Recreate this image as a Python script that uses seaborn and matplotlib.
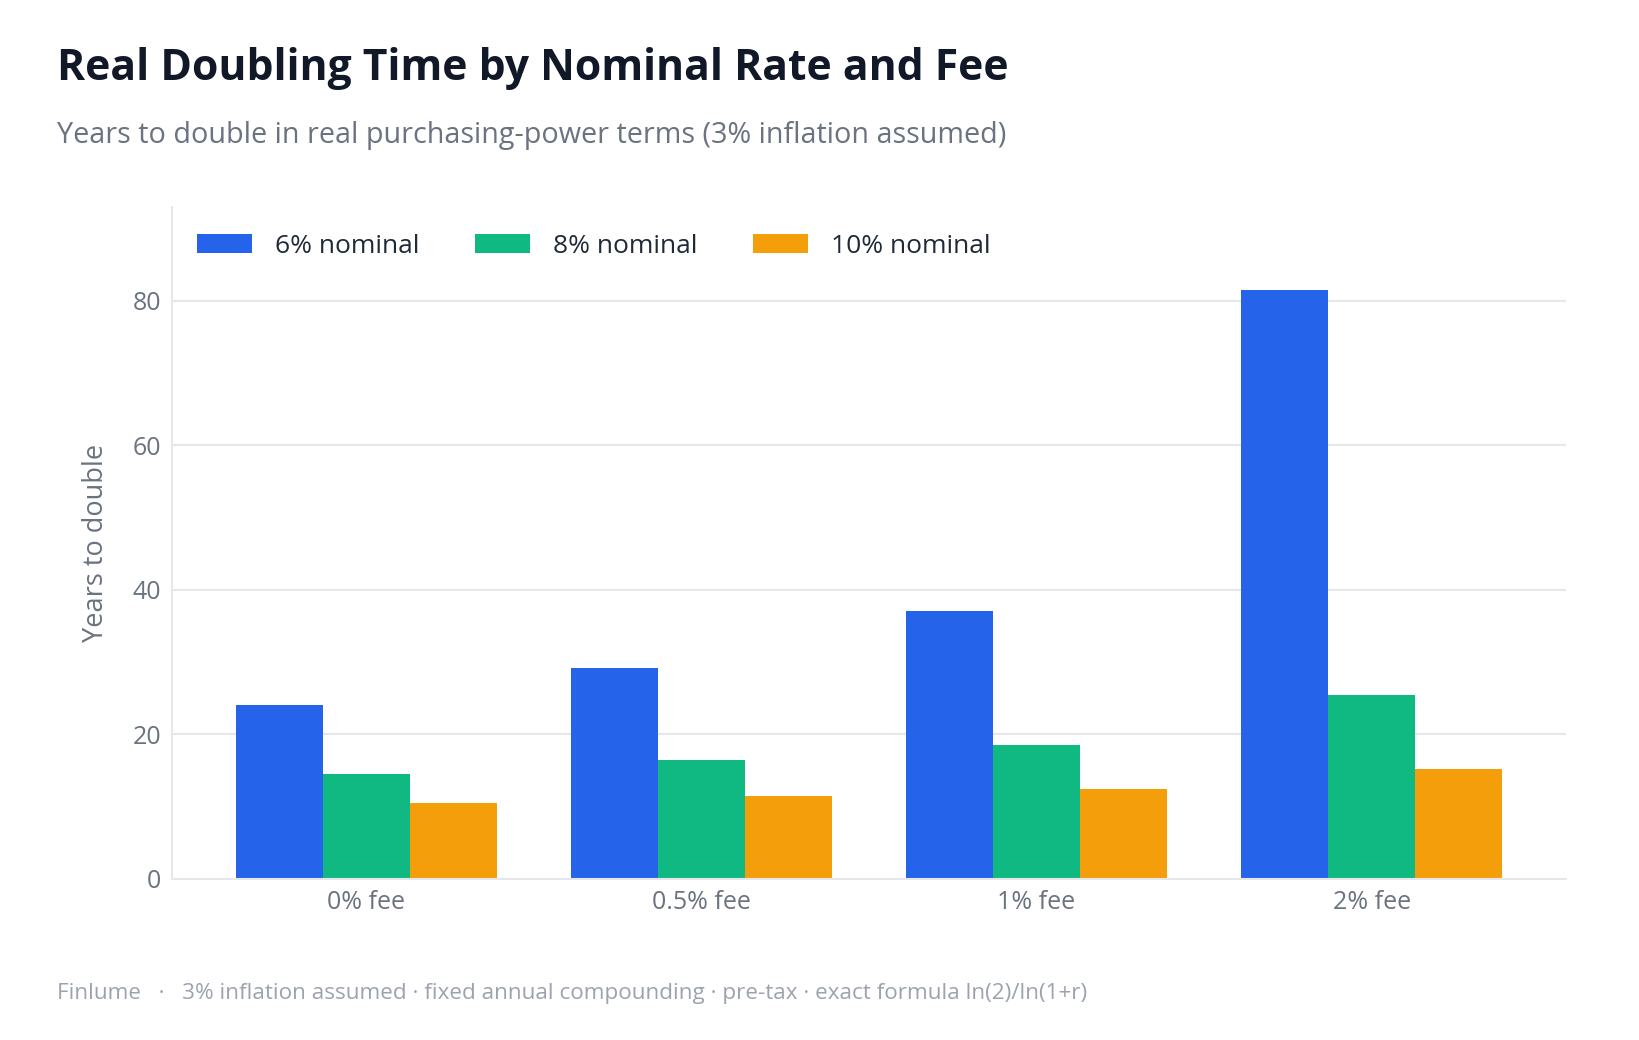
import pandas as pd
import seaborn as sns
import matplotlib.pyplot as plt

# data
fees = ['0% fee', '0.5% fee', '1% fee', '2% fee']
series = ['6% nominal', '8% nominal', '10% nominal']
nom6 = [24.1, 29.2, 37.1, 81.5]
nom8 = [14.6, 16.5, 18.6, 25.5]
nom10 = [10.5, 11.5, 12.5, 15.2]
colors = ['#2563eb', '#10b981', '#f59e0b']

df = pd.DataFrame({
    'fee': fees * 3,
    'series': [s for s in series for _ in fees],
    'years': nom6 + nom8 + nom10,
})

sns.set_theme(style='white')
plt.rcParams['font.family'] = ['Open Sans', 'DejaVu Sans']

fig = plt.figure(figsize=(16.39, 10.4), dpi=100)
ax = fig.add_axes([172 / 1639, 1 - 879 / 1040, (1566 - 172) / 1639, (879 - 207) / 1040])

sns.barplot(data=df, x='fee', y='years', hue='series', order=fees, hue_order=series,
            palette=colors, width=0.78, saturation=1, ax=ax, edgecolor='none', linewidth=0)

ax.set_xlim(-0.58, 3.58)
ax.set_ylim(0, 93)
ax.set_yticks([0, 20, 40, 60, 80])
ax.grid(axis='y', color='#e5e7eb', linewidth=1.5)
ax.set_axisbelow(True)
for s in ['top', 'right']:
    ax.spines[s].set_visible(False)
for s in ['left', 'bottom']:
    ax.spines[s].set_color('#e5e7eb')
    ax.spines[s].set_linewidth(1.5)
ax.tick_params(axis='both', length=0, labelsize=18, labelcolor='#6b7280', pad=8)
ax.set_xlabel('')
ax.set_ylabel('Years to double', fontsize=19.5, color='#6b7280', labelpad=16)

leg = ax.legend(loc='upper left', ncol=3, frameon=False, fontsize=19,
                handlelength=2.08, handleheight=0.72, columnspacing=2.1,
                handletextpad=0.87, bbox_to_anchor=(0.001, 0.995), labelcolor='#1f2937')

fig.text(57 / 1639, 1 - 69 / 1040, 'Real Doubling Time by Nominal Rate and Fee',
         fontsize=30.7, fontweight='bold', color='#111827', va='center')
fig.text(57 / 1639, 1 - 135 / 1040,
         'Years to double in real purchasing-power terms (3% inflation assumed)',
         fontsize=20.7, color='#6b7280', va='center')
fig.text(57 / 1639, 1 - 993 / 1040,
         'Finlume   ·   3% inflation assumed · fixed annual compounding · pre-tax · exact formula ln(2)/ln(1+r)',
         fontsize=16.2, color='#9ca3af', va='center')

fig.savefig('out.png', dpi=100, facecolor='white')
